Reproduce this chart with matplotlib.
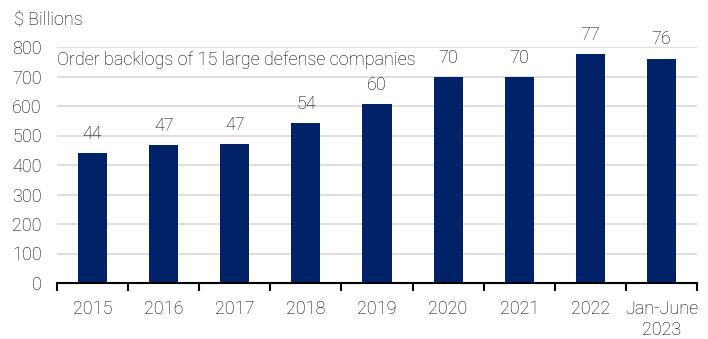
import matplotlib.pyplot as plt
import numpy as np

years = ['2015', '2016', '2017', '2018', '2019', '2020', '2021', '2022', 'Jan-June\n2023']
backlog = [440, 468, 471, 542, 607, 698, 698, 776, 760]
bar_labels = ['44', '47', '47', '54', '60', '70', '70', '77', '76']

plt.rcParams['font.family'] = ['Roboto', 'DejaVu Sans']
plt.rcParams['font.weight'] = 'light'
txt = '#000000'
navy = '#012169'
fs = 13

fig = plt.figure(figsize=(7.08, 3.39), dpi=100)
ax = fig.add_axes([57 / 708, 1 - 283 / 339, 640 / 708, 236 / 339])

x = np.arange(len(years))
ax.bar(x, backlog, width=0.41, color=navy, zorder=3)

for xi, v, lab in zip(x, backlog, bar_labels):
    ax.text(xi, v + 35, lab, ha='center', va='bottom', fontsize=fs, color=txt)

ax.set_ylim(0, 800)
ax.set_xlim(-0.5, len(years) - 0.5)
ax.set_yticks(range(0, 801, 100))
ax.tick_params(axis='y', length=0, pad=11, labelsize=fs, labelcolor=txt)
ax.set_yticklabels([str(v) for v in range(0, 801, 100)], ha='right')

# category labels centred, tick marks on the boundaries
ax.set_xticks(x)
ax.set_xticklabels(years, fontsize=fs, color=txt, linespacing=1.25)
ax.tick_params(axis='x', length=0, pad=12)
ax.set_xticks(np.arange(-0.5, len(years)), minor=True)
ax.tick_params(axis='x', which='minor', length=6, width=1.5, color='black', direction='out')

ax.grid(axis='y', color='#d9d9d9', linewidth=1.2, zorder=0)
for s in ['top', 'right', 'left']:
    ax.spines[s].set_visible(False)
ax.spines['bottom'].set_linewidth(1.5)
ax.spines['bottom'].set_zorder(4)

ax.text(0.0, 0.945, 'Order backlogs of 15 large defense companies', transform=ax.transAxes,
        ha='left', va='center', fontsize=fs, color=txt)
fig.text(14 / 708, 1 - 20 / 339, '$ Billions', ha='left', va='center', fontsize=fs, color=txt)

fig.savefig('out.png', dpi=100)
